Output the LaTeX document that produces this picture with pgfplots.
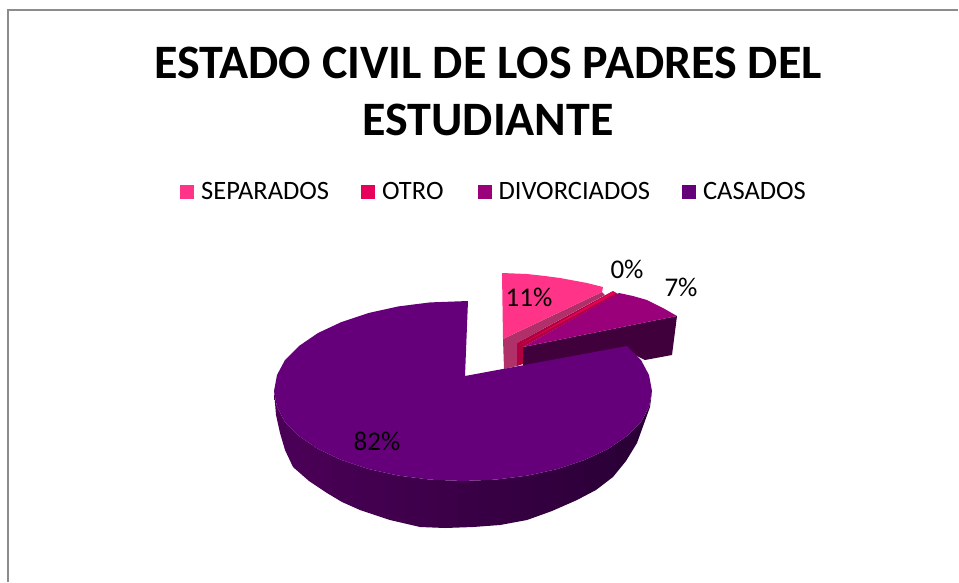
\documentclass[border=0pt]{standalone}
\usepackage{fontspec}
\setmainfont{Carlito}
\usepackage{pgfplots}
\pgfplotsset{compat=1.18}
\definecolor{csep}{HTML}{FF3388}
\definecolor{cotr}{HTML}{E6005C}
\definecolor{cdiv}{HTML}{99007A}
\definecolor{ccas}{HTML}{66007A}
\definecolor{ssep}{HTML}{B0306A}
\definecolor{sotr}{HTML}{B00040}
\definecolor{sdiv}{HTML}{40003C}
\definecolor{sa}{HTML}{4C0058}
\definecolor{sb}{HTML}{280034}
\definecolor{frame}{HTML}{8C8C8C}
\pgfplotsset{sq/.style={legend image code/.code={\fill[##1,draw=none] (0pt,-7pt) rectangle (14pt,7pt);}}}
\begin{document}
\begin{tikzpicture}[x=1pt,y=1pt]
\useasboundingbox (0,0) rectangle (959,582);
\begin{axis}[
  at={(0,0)}, anchor=south west,
  scale only axis, width=959pt, height=582pt,
  xmin=0, xmax=959, ymin=0, ymax=582, y dir=reverse,
  hide axis, clip=false, sq,
  title={ESTADO CIVIL DE LOS PADRES DEL\\ESTUDIANTE},
  title style={at={(axis description cs:0.509,0.833)}, anchor=center, align=center,
    font=\fontsize{48}{57}\selectfont\bfseries},
  legend columns=4,
  legend style={at={(axis cs:180,192)}, anchor=west, draw=none, fill=none,
    font=\fontsize{26.5}{30}\selectfont, inner sep=0pt,
    /tikz/column 1/.style={column sep=5pt},
    /tikz/column 3/.style={column sep=5pt},
    /tikz/column 5/.style={column sep=5pt},
    /tikz/column 7/.style={column sep=5pt},
    /tikz/column 2/.style={column sep=30pt},
    /tikz/column 4/.style={column sep=32pt},
    /tikz/column 6/.style={column sep=30pt}},
  legend cell align=left,
]
% frame
\addplot[frame, line width=2pt, forget plot] coordinates {(8,582) (8,10) (958,10)};
% side faces
\addplot[sdiv, fill=sdiv, draw=none, forget plot] coordinates {(523,347) (677,316) (672,355) (645,360) (625,350) (523,372)} -- cycle;
\addplot[ssep, fill=ssep, draw=none, forget plot] coordinates {(503,339) (602,292) (605,295) (517,343) (517,366) (504,369)} -- cycle;
\addplot[sotr, fill=sotr, draw=none, forget plot] coordinates {(517,343) (613,291) (618,294) (523,347) (523,364) (517,366)} -- cycle;
% main side
\addplot[draw=none, left color=sa, right color=sb, forget plot] coordinates {
 (652,391) (650,407) (637,443) (626,461) (613,477) (596,490) (577,500) (552,511) (527,520) (500,525) (473,527)
 (445,528) (420,527) (390,520) (360,510) (342,502) (327,493) (309,481) (293,467) (285,450) (280,433) (276,415) (274,391)
 (277,407) (285,422) (299,436) (318,449) (341.5,460) (368.5,469) (398.4,475.6) (430,479.6) (463,481)
 (495.8,479.6) (527.6,475.6) (557.5,469) (584.5,460) (608,449) (627,436) (641,422) (649,407)} -- cycle;
% top faces
\addplot[csep, fill=csep, draw=none] coordinates {(503,339) (502,273) (527,274) (545,276) (560,278) (587,283) (603,287) (602,292)} -- cycle;
\addlegendentry{SEPARADOS}
\addplot[cotr, fill=cotr, draw=none] coordinates {(520,345) (612,292) (616,293)} -- cycle;
\addlegendentry{OTRO}
\addplot[cdiv, fill=cdiv, draw=none] coordinates {(523,347) (619,293) (633,296) (647,300) (663,308) (677,316)} -- cycle;
\addlegendentry{DIVORCIADOS}
\addplot[ccas, fill=ccas, draw=none] coordinates {
 (465,376) (627,346) (641,360) (649,375) (652,391) (649,407) (641,422) (627,436) (608,449) (584.5,460)
 (557.5,469) (527.6,475.6) (495.8,479.6) (463,481) (430,479.6) (398.4,475.6) (368.5,469) (341.5,460)
 (318,449) (299,436) (285,422) (277,407) (274,391) (277,375) (285,360) (299,346) (318,333) (341.5,322)
 (368.5,313) (398.4,306.4) (430,302.4) (468,301)} -- cycle;
\addlegendentry{CASADOS}
\node[font=\fontsize{27}{30}\selectfont] at (axis cs:529,297) {11\%};
\node[font=\fontsize{27}{30}\selectfont] at (axis cs:627,269) {0\%};
\node[font=\fontsize{27}{30}\selectfont] at (axis cs:681,287) {7\%};
\node[font=\fontsize{27}{30}\selectfont] at (axis cs:377,441) {82\%};
\end{axis}
\end{tikzpicture}
\end{document}
